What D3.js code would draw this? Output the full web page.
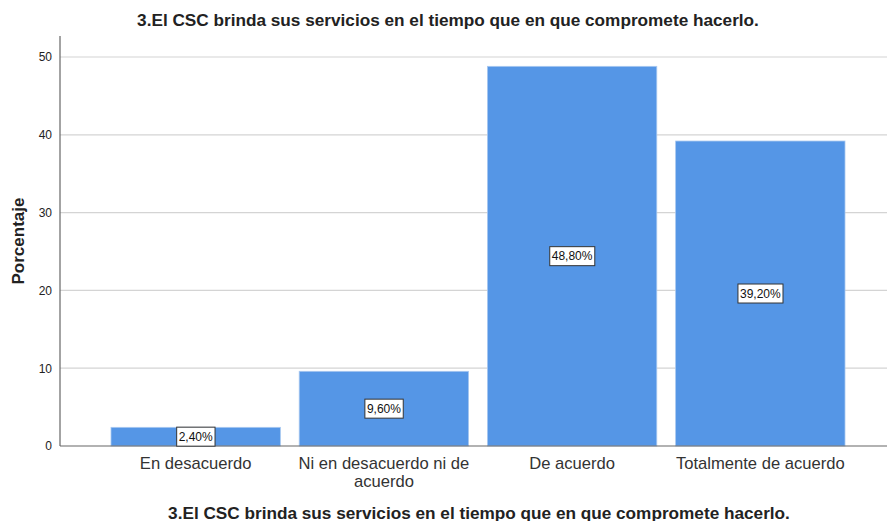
<!DOCTYPE html>
<html lang="es">
<head>
<meta charset="utf-8">
<title>3.El CSC brinda sus servicios</title>
<script src="https://cdn.jsdelivr.net/npm/d3@7"></script>
<style>
body { margin: 0; background: #fff; }
text { font-family: Arial, "Liberation Sans", sans-serif; fill: #222; }
.title { font-weight: bold; font-size: 17.2px; }
.ylab { font-weight: bold; font-size: 17px; }
.cat { font-size: 16.6px; fill: #333; }
.val { font-size: 12px; fill: #111; }
</style>
</head>
<body>
<script>
var categories = ["En desacuerdo", "Ni en desacuerdo ni de acuerdo", "De acuerdo", "Totalmente de acuerdo"];
var catLines = [["En desacuerdo"], ["Ni en desacuerdo ni de", "acuerdo"], ["De acuerdo"], ["Totalmente de acuerdo"]];
var values = [2.4, 9.6, 48.8, 39.2];
var valueLabels = ["2,40%", "9,60%", "48,80%", "39,20%"];
var yTicks = [0, 10, 20, 30, 40, 50];
var titleText = "3.El CSC brinda sus servicios en el tiempo que en que compromete hacerlo.";

var W = 887, H = 521;
var svg = d3.select("body").append("svg")
  .attr("width", W)
  .attr("height", H);

var plotLeft = 60, plotRight = 887, plotTop = 36, plotBottom = 446;

var y = d3.scaleLinear().domain([0, 50]).range([plotBottom, 57]);
var x = d3.scaleBand().domain(categories).range([111, 845]).paddingInner(0.1).paddingOuter(0);

// grid lines
svg.append("g").selectAll("line")
  .data(yTicks.filter(function(d) { return d > 0; }))
  .enter().append("line")
  .attr("x1", plotLeft).attr("x2", plotRight)
  .attr("y1", function(d) { return y(d); })
  .attr("y2", function(d) { return y(d); })
  .attr("stroke", "#d4d4d4")
  .attr("stroke-width", 1.2);

// bars
svg.append("g").selectAll("rect")
  .data(values)
  .enter().append("rect")
  .attr("x", function(d, i) { return x(categories[i]); })
  .attr("y", function(d) { return y(d); })
  .attr("width", x.bandwidth())
  .attr("height", function(d) { return plotBottom - y(d); })
  .attr("fill", "#5596e6")
  .attr("stroke", "#a9c8f0")
  .attr("stroke-width", 0.8);

// y axis
var yAxis = d3.axisLeft(y).tickValues(yTicks).tickSize(0).tickPadding(8);
var ga = svg.append("g").attr("transform", "translate(" + plotLeft + ",0)").call(yAxis)
  .attr("font-size", 12).attr("font-family", "Arial, sans-serif");
ga.select(".domain").remove();
ga.selectAll(".tick text").attr("fill", "#222");

svg.append("line")
  .attr("x1", plotLeft).attr("x2", plotLeft).attr("y1", plotTop).attr("y2", plotBottom)
  .attr("stroke", "#666").attr("stroke-width", 1.2);
svg.append("line")
  .attr("x1", plotLeft).attr("x2", plotRight).attr("y1", plotBottom).attr("y2", plotBottom)
  .attr("stroke", "#666").attr("stroke-width", 1.2);

// value labels
var lab = svg.append("g").selectAll("g")
  .data(values)
  .enter().append("g")
  .attr("transform", function(d, i) {
    return "translate(" + (x(categories[i]) + x.bandwidth() / 2) + "," + ((y(d) + plotBottom) / 2) + ")";
  });
lab.append("text")
  .attr("class", "val")
  .attr("text-anchor", "middle")
  .attr("dy", "0.36em")
  .text(function(d, i) { return valueLabels[i]; });
lab.each(function() {
  var g = d3.select(this);
  var bb = g.select("text").node().getBBox();
  g.insert("rect", "text")
    .attr("x", bb.x - 2).attr("y", -9.5)
    .attr("width", bb.width + 4).attr("height", 19)
    .attr("fill", "#fff")
    .attr("stroke", "#333")
    .attr("stroke-width", 1);
});

// category labels
var cl = svg.append("g").selectAll("text")
  .data(catLines)
  .enter().append("text")
  .attr("class", "cat")
  .attr("text-anchor", "middle")
  .attr("x", function(d, i) { return x(categories[i]) + x.bandwidth() / 2; })
  .attr("y", 469);
cl.selectAll("tspan")
  .data(function(d) { return d; })
  .enter().append("tspan")
  .attr("x", function() { return d3.select(this.parentNode).attr("x"); })
  .attr("dy", function(d, j) { return j === 0 ? 0 : 17.5; })
  .text(function(d) { return d; });

// titles
svg.append("text").attr("class", "title")
  .attr("x", 448).attr("y", 26)
  .attr("text-anchor", "middle")
  .text(titleText);
svg.append("text").attr("class", "title")
  .attr("x", 479).attr("y", 519)
  .attr("text-anchor", "middle")
  .text(titleText);

svg.append("text").attr("class", "ylab")
  .attr("transform", "translate(24,241) rotate(-90)")
  .attr("text-anchor", "middle")
  .text("Porcentaje");
</script>
</body>
</html>
